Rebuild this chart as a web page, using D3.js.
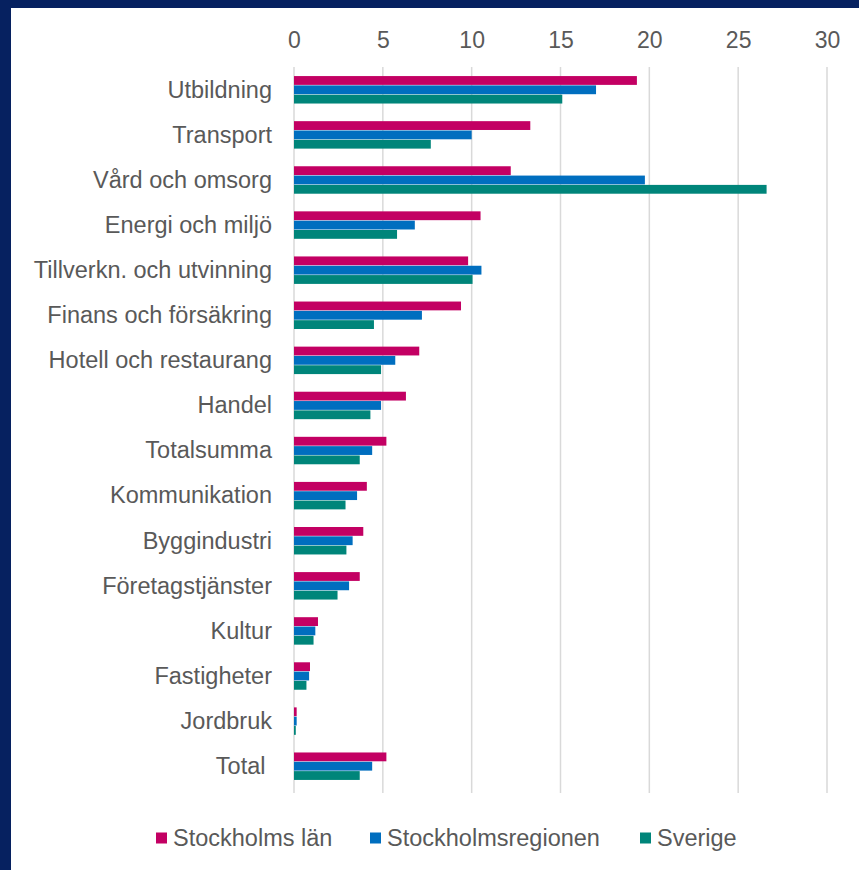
<!DOCTYPE html>
<meta charset="utf-8">
<html>
<head>
<style>
  body { margin: 0; background: #fff; }
  svg text { font-family: "Liberation Sans", Arial, sans-serif; fill: #595959; white-space: pre; }
</style>
</head>
<body>
<svg width="859" height="870" id="chart-area"></svg>
<script src="https://d3js.org/d3.v7.min.js"></script>
<script>
    var categories = ["Utbildning", "Transport", "Vård och omsorg", "Energi och miljö",
        "Tillverkn. och utvinning", "Finans och försäkring", "Hotell och restaurang", "Handel",
        "Totalsumma", "Kommunikation", "Byggindustri", "Företagstjänster", "Kultur",
        "Fastigheter", "Jordbruk", "Total "];
    var seriesNames = ["Stockholms län", "Stockholmsregionen", "Sverige"];
    var stockholmsLan = [19.3, 13.3, 12.2, 10.5, 9.8, 9.4, 7.05, 6.3, 5.2, 4.1, 3.9, 3.7, 1.35, 0.9, 0.15, 5.2];
    var stockholmsRegionen = [17.0, 10.0, 19.75, 6.8, 10.55, 7.2, 5.7, 4.9, 4.4, 3.55, 3.3, 3.1, 1.2, 0.85, 0.15, 4.4];
    var sverige = [15.1, 7.7, 26.6, 5.8, 10.05, 4.5, 4.9, 4.3, 3.7, 2.9, 2.95, 2.45, 1.1, 0.7, 0.1, 3.7];
    var xTicks = [0, 5, 10, 15, 20, 25, 30];
    var colors = ["#c30063", "#006ebf", "#00857a"];

    var series = [stockholmsLan, stockholmsRegionen, sverige];
    var data = categories.map(function (c, i) {
        return { name: c, values: series.map(function (s) { return s[i]; }) };
    });

    var svg = d3.select("svg");

    // navy frame (top and left)
    svg.append("rect").attr("x", 0).attr("y", 0).attr("width", 859).attr("height", 8).attr("fill", "#062160");
    svg.append("rect").attr("x", 0).attr("y", 0).attr("width", 11).attr("height", 870).attr("fill", "#062160");

    var x = d3.scaleLinear().domain([0, 30]).range([294, 827]);
    var y = d3.scaleBand().domain(categories).range([67.5, 789]).paddingInner(0.38).paddingOuter(0.19);
    var y1 = d3.scaleBand().domain(d3.range(3)).range([0, y.bandwidth()]);

    /* grid lines */
    svg.append("g").selectAll("line")
        .data(xTicks)
        .enter().append("line")
        .attr("x1", function (d) { return x(d); })
        .attr("x2", function (d) { return x(d); })
        .attr("y1", 67)
        .attr("y2", 793)
        .attr("stroke", "#d9d9d9")
        .attr("stroke-width", 1.5);

    /* top axis labels */
    var xAxis = svg.append("g")
        .attr("transform", "translate(0,48)")
        .call(d3.axisTop(x).tickValues(xTicks).tickSize(0).tickPadding(0));
    xAxis.select(".domain").remove();
    xAxis.selectAll("text")
        .style("font-size", "23px")
        .attr("fill", "#595959");

    /* category labels */
    var yAxis = svg.append("g")
        .attr("transform", "translate(272,0)")
        .call(d3.axisLeft(y).tickSize(0).tickPadding(0));
    yAxis.select(".domain").remove();
    yAxis.selectAll("text")
        .style("font-size", "23.5px")
        .attr("fill", "#595959");

    /* bars */
    var groups = svg.append("g").selectAll("g")
        .data(data)
        .enter().append("g")
        .attr("transform", function (d) { return "translate(0," + y(d.name) + ")"; });

    groups.selectAll("rect")
        .data(function (d) { return d.values; })
        .enter().append("rect")
        .attr("x", x(0))
        .attr("y", function (d, i) { return y1(i); })
        .attr("width", function (d) { return x(d) - x(0); })
        .attr("height", y1.bandwidth() - 0.5)
        .attr("fill", function (d, i) { return colors[i]; });

    /* legend */
    var legendX = [156, 370, 640];
    var legend = svg.append("g").selectAll("g")
        .data(seriesNames)
        .enter().append("g")
        .attr("transform", function (d, i) { return "translate(" + legendX[i] + ",838)"; });
    legend.append("rect")
        .attr("x", 0).attr("y", -5.5).attr("width", 11).attr("height", 11)
        .attr("fill", function (d, i) { return colors[i]; });
    legend.append("text")
        .attr("x", 17)
        .attr("dy", "0.35em")
        .style("font-size", "23.5px")
        .text(function (d) { return d; });
</script>
</body>
</html>
